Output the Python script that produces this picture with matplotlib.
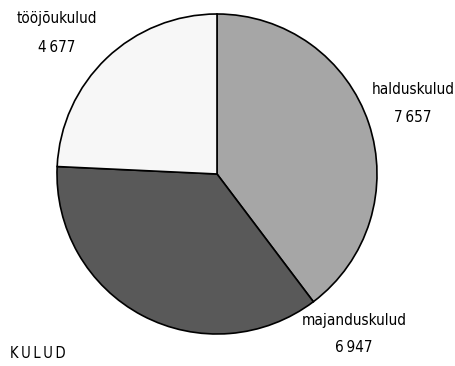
import matplotlib
matplotlib.use('Agg')
import matplotlib.pyplot as plt

plt.rcParams['font.family'] = ['DejaVu Sans']
plt.rcParams['font.stretch'] = 'condensed'

# data
labels = ['halduskulud', 'majanduskulud', 'tööjõukulud']
values = [7657, 6947, 4677]
colors = ['#a6a6a6', '#595959', '#f7f7f7']
title = 'KULUD'

fig = plt.figure(figsize=(4.55, 3.66), dpi=100)
ax = fig.add_axes([0, 0, 1, 1])
ax.axis('off')

ax.pie(values, colors=colors, startangle=90, counterclock=False,
       center=(217, 192), radius=160,
       wedgeprops=dict(edgecolor='black', linewidth=1.2))
ax.set_xlim(0, 455)
ax.set_ylim(0, 366)
ax.set_aspect('equal')

# label positions (pixels, y up)
pos = [(413, 277), (354, 46), (57, 347)]
for (x, y), lab, v in zip(pos, labels, values):
    ax.text(x, y, lab, ha='center', va='center', fontsize=11)
    ax.text(x, y - 28, f'{v:,}'.replace(',', '\u2009'), ha='center', va='center', fontsize=11)

ax.text(10, 13, '\u2009'.join(title), ha='left', va='center', fontsize=10.5)

fig.savefig('out.png', dpi=100)
